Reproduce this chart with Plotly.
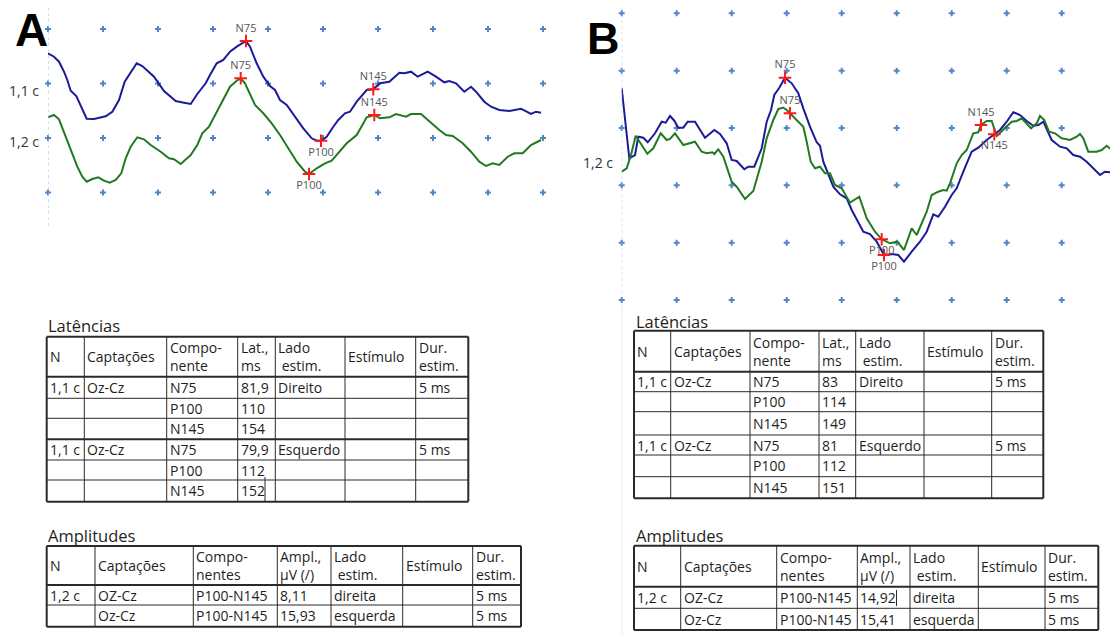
import plotly.graph_objects as go

# ---------------- Panel A data (time in ms, amplitude in display µV) ----------------
a_t_blue = [0, 3, 5.5, 8, 9.65, 11.35, 14.15, 16.35, 19.35, 23, 28.85, 32.15, 35.5, 38.35, 41.65,
            44.35, 47.15, 53, 58, 60.5, 63.85, 68, 71.35, 74.65, 78.85, 81, 84.35, 87.65, 91, 94.35,
            96.35, 99, 101, 104.35, 107.65, 111, 113.5, 116, 119.35, 123.5, 127.65, 131.85, 134.35,
            136.5, 139.35, 142.65, 145.15, 148.5, 151, 154.35, 159.35, 162.65, 166, 170.65, 175.65,
            178.15, 181.5, 184.85, 189.85, 194, 198.15, 200.65, 204, 208.15, 211.5, 214, 218.15,
            221.5, 225.65, 230.65, 236.5, 241.5, 244, 246.5]
a_blue = [13.92, 13.58, 13.08, 12.08, 11.25, 10.18, 9.65, 8.75, 7.38, 7.35, 7.62, 8.08, 9.25, 11.08, 12.08,
          12.92, 12.65, 11.58, 10.15, 9.75, 9.15, 8.98, 8.85, 9.85, 10.92, 11.75, 12.92, 13.25, 14.08, 14.58,
          14.85, 15.15, 14.58, 12.92, 11.58, 10.65, 10.25, 9.25, 8.75, 7.58, 6.42, 5.42, 5.18,
          5.18, 5.58, 6.58, 7.25, 7.92, 8.08, 9.08, 10.25, 10.32, 10.92, 11.08, 11.98,
          11.92, 12.08, 11.58, 12.08, 11.58, 11.02, 11.15, 10.92, 10.08, 10.58, 10.08, 9.08,
          8.58, 8.25, 8.15, 8.38, 7.85, 8.08, 7.98]

a_t_green = [0, 3, 5.5, 8.85, 11.35, 14.65, 17.15, 19.35, 22.15, 25.15, 28, 30.85, 33.85, 36.65, 38.85,
             41.35, 44.65, 48, 51.35, 56.35, 60.5, 63, 66.35, 71.35, 74.65, 77.15, 80.5, 84.35, 87.65,
             91, 94.35, 96.35, 98.5, 101, 103.5, 107.65, 111.85, 116, 120.15, 124.35, 128.5, 130.5,
             134.35, 138.5, 141.85, 145.15, 149.35, 154.35, 159.35, 163.15, 166, 170.65, 174, 179,
             181.5, 186.5, 189, 192.35, 195.65, 199, 202.35, 207.35, 211.5, 215.65, 219, 222.35,
             225.65, 229.85, 233.15, 237.35, 241.5, 246.5]
a_green = [7.52, 7.75, 7.32, 5.58, 4.25, 2.58, 1.58, 1.08, 1.35, 1.52, 1.18, 0.98, 1.25, 1.92, 3.42,
           4.58, 5.52, 5.32, 4.75, 4.08, 3.42, 3.32, 2.85, 3.75, 4.75, 5.92, 6.58, 8.08, 9.42,
           10.58, 11.18, 11.42, 10.92, 9.75, 8.75, 7.92, 6.92, 5.75, 4.42, 3.08, 2.08, 1.85,
           2.42, 2.92, 3.18, 3.92, 4.92, 5.75, 7.52, 7.75, 7.42, 7.52, 7.85, 7.58,
           7.85, 7.85, 7.42, 6.75, 6.25, 5.75, 5.65, 4.92, 4.08, 3.08, 2.65, 2.92,
           2.75, 3.58, 3.92, 3.92, 4.75, 5.25]

a_peak_names = ["N75", "P100", "N145"]
a_peak_t_blue = [99, 136.5, 162.65]
a_peak_v_blue = [15.15, 5.18, 10.32]
a_peak_t_green = [96.35, 130.5, 163.15]
a_peak_v_green = [11.42, 1.85, 7.75]

# ---------------- Panel B data ----------------
b_t_blue = [0, 3.8, 6.65, 8.3, 10.8, 13, 16.65, 20, 22, 24.15, 26.3, 28.3, 30.8, 33, 36.65, 39.15, 41.65,
            46.3, 49.15, 52.5, 55, 57.5, 61.3, 63.3, 66.3, 70, 72.5, 74.65, 76.3, 78.65, 80.8, 81.65,
            85, 88.3, 90.8, 94.15, 97.5, 99.15, 100.8, 103.3, 105.8, 109.15, 112.5, 115, 118.3, 120.8,
            124.15, 127.5, 131.15, 135, 138.3, 141.15, 145, 149.15, 152.5, 155.8, 158.3, 161.65, 165,
            167.5, 170.8, 175, 178.3, 182.5, 186.3, 189.15, 192.5, 195.8, 199.15, 202.5, 205.8, 208.3,
            210.8, 213.3, 215, 219.15, 222.5, 225.8, 229.15, 232.5, 235.8, 239.15, 241.65, 245, 248]
b_blue = [21.17, 14.17, 14.5, 16.33, 16.23, 15.77, 16.67, 17.83, 17.73, 18.4, 17.93, 17.23, 17.23, 17.83,
          17.83, 17, 16.23, 17, 16.6, 15.67, 14, 13.9, 13.07, 13.33, 13.33, 15.17, 17.83, 19, 20.5,
          21.17, 22, 22.23, 21.67, 20.67, 19.17, 17.33, 15.77, 15.43, 13.83, 12.5, 11.33, 10.57, 10.17,
          9, 7.83, 6.83, 6.6, 5.83, 4.5, 4.6, 4.5, 3.83, 4.83, 5.83, 6.83, 8.57, 8.33, 9.33, 10.5,
          11.17, 12.83, 14.83, 15.23, 16, 16.57, 17, 17.83, 18.77, 18.5, 17.9, 17.43, 17.5,
          17.83, 16.83, 16, 15.33, 15.17, 14.5, 14.33, 13.83, 13.17, 12.5, 12.83, 12.77, 13.23]

b_t_green = [0, 2.5, 4.65, 7, 10, 12.8, 15.8, 19.5, 22.5, 24.15, 26.65, 30.8, 36.65, 40, 42.5, 45.3, 46.3,
             48.3, 50.8, 55, 57.5, 61.65, 65.8, 70, 72.5, 75.8, 78.3, 80.65, 82.5, 84.15, 87.5, 90.8,
             92.5, 94.5, 96.65, 99.15, 101.65, 104.15, 106.65, 110, 114.15, 118.8, 122.5, 126.65,
             130, 134.15, 137.8, 141.15, 145, 147.5, 152.5, 155, 158.3, 160.8, 162.5, 164.15, 167.5,
             170, 172.5, 175.8, 178.3, 179.65, 182.5, 185, 187.5, 190.8, 195, 197.5, 200, 204.65,
             207.5, 209.15, 211.3, 213.65, 216.65, 220, 224.15, 227.5, 229.15, 230.8, 233.3, 237.5,
             240, 242.5, 245, 248]
b_green = [12.83, 13.17, 14.5, 16.43, 15.5, 14.63, 15.17, 16.67, 16, 16.1, 16.67, 15.5, 15.83, 14.83,
           14.67, 14.77, 14.6, 15.07, 14.33, 11.83, 11.33, 10.1, 10.9, 13.83, 16.17, 18, 19.1, 19.25,
           19, 18.67, 18, 17.33, 15.83, 13.83, 13.17, 13.33, 12.67, 12.67, 11.5, 11.17, 9.73, 10.33,
           8.17, 6.83, 6.07, 5.67, 5.83, 5, 7.17, 6.5, 8.83, 10.5, 10.83, 11, 10.93, 11.67, 13.67,
           14.5, 15, 16.67, 16.77, 17.5, 17.9, 17.9, 16.4, 17, 17.83, 17.9, 18.17, 17.17,
           17.67, 18.4, 18, 16.83, 16.67, 16.17, 16, 16.33, 16.6, 16.17, 14.83, 14.83,
           15, 15.43, 15, 14.83]

b_peak_names = ["N75", "P100", "N145"]
b_peak_t_blue = [81.65, 131.15, 186.3]
b_peak_v_blue = [22.23, 4.5, 16.57]
b_peak_t_green = [84.15, 130, 179.65]
b_peak_v_green = [18.67, 6.07, 17.5]

# ---------------- Tables ----------------
lat_header = ["N", "Captações", "Compo-<br>nente", "Lat.,<br>ms", "Lado<br> estim.", "Estímulo", "Dur.<br>estim."]
amp_header = ["N", "Captações", "Compo-<br>nentes", "Ampl.,<br>µV (/)", "Lado<br> estim.", "Estímulo", "Dur.<br>estim."]

a_lat_rows = [["1,1 c", "Oz-Cz", "N75", "81,9", "Direito", "", "5 ms"],
              ["", "", "P100", "110", "", "", ""],
              ["", "", "N145", "154", "", "", ""],
              ["1,1 c", "Oz-Cz", "N75", "79,9", "Esquerdo", "", "5 ms"],
              ["", "", "P100", "112", "", "", ""],
              ["", "", "N145", "152", "", "", ""]]
a_amp_rows = [["1,2 c", "OZ-Cz", "P100-N145", "8,11", "direita", "", "5 ms"],
              ["", "Oz-Cz", "P100-N145", "15,93", "esquerda", "", "5 ms"]]
b_lat_rows = [["1,1 c", "Oz-Cz", "N75", "83", "Direito", "", "5 ms"],
              ["", "", "P100", "114", "", "", ""],
              ["", "", "N145", "149", "", "", ""],
              ["1,1 c", "Oz-Cz", "N75", "81", "Esquerdo", "", "5 ms"],
              ["", "", "P100", "112", "", "", ""],
              ["", "", "N145", "151", "", "", ""]]
b_amp_rows = [["1,2 c", "OZ-Cz", "P100-N145", "14,92", "direita", "", "5 ms"],
              ["", "Oz-Cz", "P100-N145", "15,41", "esquerda", "", "5 ms"]]

# ---------------- Styles / layout helpers ----------------
BLUE = "#1b1b98"
GREEN = "#217a21"
GRID = "#4f86c6"
FONT = "Open Sans"
TXT = "#1e1e1e"
OFF = 8                      # page body margin of the html page
W, H = 1118 - OFF, 635 - OFF


def fx(p):
    return (p - OFF) / W


def fy(p):
    return 1 - (p - OFF) / H


fig = go.Figure()
shapes = []
annotations = []


def grid(xref, yref, ncol, nrow, dx, dy):
    xs, ys = [], []
    for i in range(ncol):
        for j in range(nrow):
            xs.append(i * dx)
            ys.append(j * dy)
    fig.add_trace(go.Scatter(x=xs, y=ys, mode="markers", xaxis=xref, yaxis=yref,
                             marker=dict(symbol="cross", size=5, color=GRID, line=dict(width=0)),
                             hoverinfo="skip", showlegend=False, cliponaxis=False))


grid("x", "y", 10, 4, 27.5, 5.45)
grid("x2", "y2", 10, 6, 27.5, 5.733)

for xa, ya, t, v, c in [("x", "y", a_t_blue, a_blue, BLUE), ("x", "y", a_t_green, a_green, GREEN),
                        ("x2", "y2", b_t_blue, b_blue, BLUE), ("x2", "y2", b_t_green, b_green, GREEN)]:
    fig.add_trace(go.Scatter(x=t, y=v, mode="lines", xaxis=xa, yaxis=ya,
                             line=dict(color=c, width=2), showlegend=False, hoverinfo="skip"))


def peaks(xa, ya, t, v, names, positions):
    fig.add_trace(go.Scatter(x=t, y=v, mode="markers+text", xaxis=xa, yaxis=ya, text=names,
                             textposition=positions,
                             textfont=dict(family=FONT, size=11, color="#555"),
                             marker=dict(symbol="cross-thin", size=9, line=dict(width=2, color="#ff1a1a")),
                             showlegend=False, hoverinfo="skip"))


peaks("x", "y", a_peak_t_blue, a_peak_v_blue, a_peak_names, ["top center", "bottom center", "top center"])
peaks("x", "y", a_peak_t_green, a_peak_v_green, a_peak_names, ["top center", "bottom center", "top center"])
peaks("x2", "y2", b_peak_t_blue, b_peak_v_blue, b_peak_names, ["top center", "bottom center", "bottom center"])
peaks("x2", "y2", b_peak_t_green, b_peak_v_green, b_peak_names, ["top center", "bottom center", "top center"])


def hline(x0, x1, y, w):
    shapes.append(dict(type="line", xref="paper", yref="paper", x0=fx(x0), x1=fx(x1), y0=fy(y), y1=fy(y),
                       line=dict(color="#2a2a2a", width=w)))


def vline(x, y0, y1, w, color="#2a2a2a"):
    shapes.append(dict(type="line", xref="paper", yref="paper", x0=fx(x), x1=fx(x), y0=fy(y0), y1=fy(y1),
                       line=dict(color=color, width=w)))


def text(s, x, y, size=14, xanchor="left", color=TXT, family=FONT, bold=False):
    annotations.append(dict(text=("<b>%s</b>" % s) if bold else s, x=fx(x), y=fy(y),
                            xref="paper", yref="paper", showarrow=False,
                            xanchor=xanchor, yanchor="middle", align="left",
                            font=dict(family=family, size=size, color=color)))


def table(header, rows, cols, rws, thick_rows, size=14):
    for i, r in enumerate(rws):
        hline(cols[0], cols[-1], r, 2 if i in thick_rows else 1)
    for i, c in enumerate(cols):
        vline(c, rws[0], rws[-1], 2 if i in (0, len(cols) - 1) else 1)
    for j, h in enumerate(header):
        text(h, cols[j] + 1, (rws[0] + rws[1]) / 2, size)
    for i, row in enumerate(rows):
        yc = (rws[i + 1] + rws[i + 2]) / 2
        for j, s in enumerate(row):
            if s:
                text(s, cols[j] + 1, yc, size)


table(lat_header, a_lat_rows,
      [46.7, 84.3, 166.7, 237.7, 275.3, 345, 415.7, 468.3],
      [336.7, 376.7, 398.3, 418.3, 439.3, 460, 480, 501.7], {0, 1, 4, 7})
table(amp_header, a_amp_rows,
      [46.7, 95, 193.3, 277.3, 331, 402.7, 472.7, 521],
      [546, 585, 605, 626.7], {0, 1, 3})
table(lat_header, b_lat_rows,
      [634, 670.7, 750, 819, 855.7, 924, 991.7, 1043.3],
      [330.7, 371.7, 391.7, 411.7, 435, 455, 476.7, 498.3], {0, 1, 7})
table(amp_header, b_amp_rows,
      [634, 680.7, 776.7, 857.3, 910, 978.3, 1045, 1098.3],
      [545.7, 586.7, 608.3, 630], {0, 1, 3})

# small text cursors visible in the source screenshot
vline(265, 477, 501, 1)
vline(896.5, 590, 606, 1)

# panel left reference lines
shapes.append(dict(type="line", xref="x", yref="paper", x0=0, x1=0, y0=fy(226), y1=1,
                   line=dict(color="#9fc3e8", width=1, dash="dot")))
shapes.append(dict(type="line", xref="x2", yref="paper", x0=0, x1=0, y0=fy(305), y1=1,
                   line=dict(color="#9fc3e8", width=1, dash="dot")))
shapes.append(dict(type="line", xref="x2", yref="paper", x0=0, x1=0, y0=0, y1=fy(305),
                   line=dict(color="#d4d4d4", width=1)))

text("A", 31, 30, 46, "center", "black", "Liberation Sans", True)
text("B", 603, 38, 45, "center", "black", "Liberation Sans", True)
text("1,1 c", 24, 91, 14, "center", "#333")
text("1,2 c", 24, 141, 14, "center", "#333")
text("1,2 c", 598, 162, 14, "center", "#333")
text("Latências", 46, 325, 16.5)
text("Amplitudes", 46, 535, 16.5)
text("Latências", 634, 321, 16.5)
text("Amplitudes", 634, 535, 16.5)

ax_hidden = dict(visible=False, showgrid=False, zeroline=False, fixedrange=True)
fig.update_layout(
    width=W, height=H, margin=dict(l=0, r=0, t=0, b=0),
    paper_bgcolor="white", plot_bgcolor="rgba(0,0,0,0)",
    xaxis=dict(domain=[fx(48), fx(560)], range=[0, 256], **ax_hidden),
    yaxis=dict(domain=[fy(228), 1], range=[-3.55, 18.45], **ax_hidden),
    xaxis2=dict(domain=[fx(621.7), 1], range=[0, 248.15], **ax_hidden),
    yaxis2=dict(domain=[fy(305), 1], range=[-0.5, 29.2], **ax_hidden),
    shapes=shapes,
    annotations=annotations,
)

fig.write_html("out.html")
